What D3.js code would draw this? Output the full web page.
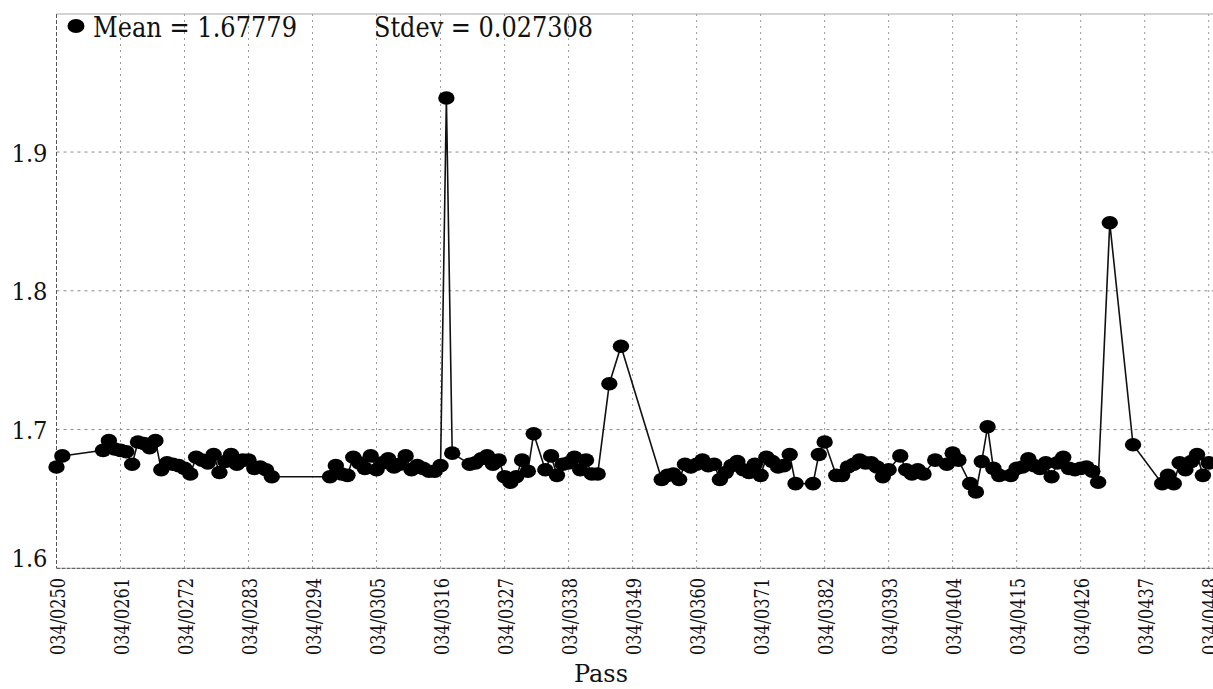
<!DOCTYPE html>
<html>
<head>
<meta charset="utf-8">
<script src="https://cdn.jsdelivr.net/npm/d3@7"></script>
<style>
  html, body { margin: 0; padding: 0; background: #fff; }
</style>
</head>
<body>
<svg id="chart" width="1213" height="689"></svg>
<script>
// ---- data ----
const passes = [
  250,251,258,259,260,261,262,263,264,265,266,267,268,269,270,271,272,273,274,275,
  276,277,278,279,280,281,282,283,284,285,286,287,
  297,298,299,300,301,302,303,304,305,306,307,308,309,310,311,312,313,314,315,316,
  317,318,
  321,322,323,324,325,326,327,328,329,330,331,332,334,335,336,337,338,339,340,341,342,343,
  345,347,
  354,355,356,357,358,359,360,361,362,363,364,365,366,367,368,369,370,371,372,373,374,375,376,377,
  380,381,382,384,385,386,387,388,389,390,391,392,393,395,396,397,398,399,401,403,404,405,
  407,408,409,410,411,412,414,415,416,417,418,419,420,421,422,423,424,425,426,427,428,429,
  431,435,440,441,442,443,444,445,446,447,448
];
const values = [
  1.673,1.681,1.685,1.692,1.686,1.685,1.684,1.675,1.691,1.690,1.687,1.692,1.671,1.676,1.675,1.674,1.672,1.668,1.680,1.678,
  1.676,1.682,1.669,1.677,1.682,1.675,1.678,1.678,1.672,1.673,1.671,1.666,
  1.666,1.674,1.668,1.667,1.680,1.676,1.672,1.681,1.671,1.676,1.679,1.673,1.675,1.681,1.671,1.674,1.672,1.670,1.670,1.674,
  1.939,1.683,
  1.675,1.676,1.679,1.681,1.675,1.678,1.666,1.662,1.666,1.678,1.670,1.697,1.671,1.681,1.667,1.675,1.676,1.680,1.671,1.678,1.668,1.668,
  1.733,1.760,
  1.664,1.667,1.668,1.664,1.675,1.673,1.675,1.678,1.674,1.675,1.664,1.669,1.674,1.677,1.671,1.669,1.675,1.667,1.680,1.677,1.673,1.674,1.682,1.661,
  1.661,1.682,1.691,1.667,1.667,1.673,1.675,1.678,1.676,1.676,1.673,1.666,1.671,1.681,1.671,1.668,1.671,1.668,1.678,1.675,1.683,1.678,
  1.661,1.655,1.677,1.702,1.672,1.667,1.667,1.672,1.673,1.679,1.674,1.672,1.676,1.666,1.676,1.680,1.672,1.671,1.672,1.673,1.670,1.662,
  1.849,1.689,1.661,1.667,1.661,1.676,1.671,1.677,1.682,1.667,1.676
];
const xTickValues = [250,261,272,283,294,305,316,327,338,349,360,371,382,393,404,415,426,437,448];
const xTickLabels = ["034/0250","034/0261","034/0272","034/0283","034/0294","034/0305","034/0316","034/0327","034/0338","034/0349",
                     "034/0360","034/0371","034/0382","034/0393","034/0404","034/0415","034/0426","034/0437","034/0448"];
const yTickValues = [1.6, 1.7, 1.8, 1.9];
const yTickLabels = ["1.6", "1.7", "1.8", "1.9"];
const legendTexts = ["Mean = 1.67779", "Stdev = 0.027308"];
const xTitle = "Pass";

// ---- layout ----
const FONT = "'DejaVu Serif', serif";
const svg = d3.select("#chart");
const plotL = 56.5, plotR = 1213, plotT = 14, plotB = 568.3;

const x = d3.scaleLinear().domain([250, 448]).range([plotL, 1208.7]);
const y = d3.scaleLinear().domain([1.6, 2.0]).range([plotB, 13.3]);

const data = passes.map((p, i) => ({ p, v: values[i] }));

// grid: vertical
svg.append("g").selectAll("line").data(xTickValues).join("line")
  .attr("x1", d => x(d)).attr("x2", d => x(d))
  .attr("y1", plotT).attr("y2", plotB)
  .attr("stroke", "#9a9a9a").attr("stroke-width", 1)
  .attr("stroke-dasharray", "2,4");

// grid: horizontal
svg.append("g").selectAll("line").data(yTickValues.filter(d => d > 1.6)).join("line")
  .attr("x1", plotL).attr("x2", plotR)
  .attr("y1", d => y(d)).attr("y2", d => y(d))
  .attr("stroke", "#8a8a8a").attr("stroke-width", 1)
  .attr("stroke-dasharray", "3,4");

// frame
svg.append("line").attr("x1", plotL).attr("x2", plotR).attr("y1", plotT).attr("y2", plotT)
  .attr("stroke", "#a8a8a8").attr("stroke-width", 1.2);
svg.append("line").attr("x1", plotL).attr("x2", plotL).attr("y1", plotT).attr("y2", plotB)
  .attr("stroke", "#555").attr("stroke-width", 1).attr("stroke-dasharray", "4,2");
svg.append("line").attr("x1", plotL).attr("x2", plotR).attr("y1", plotB).attr("y2", plotB)
  .attr("stroke", "#666").attr("stroke-width", 1.2).attr("stroke-dasharray", "4,1");

// y tick labels
svg.append("g").selectAll("text").data(yTickValues).join("text")
  .attr("x", 47.5)
  .attr("y", (d, i) => i === 0 ? y(d) - 1.5 : y(d) + 9.5)
  .attr("text-anchor", "end")
  .style("font-family", FONT)
  .attr("font-size", 25)
  .attr("textLength", 36).attr("lengthAdjust", "spacingAndGlyphs")
  .attr("fill", "#111")
  .text((d, i) => yTickLabels[i]);

// x tick labels (rotated)
svg.append("g").selectAll("text").data(xTickValues).join("text")
  .attr("transform", d => `translate(${x(d) + 8},578) rotate(-90)`)
  .attr("text-anchor", "end")
  .style("font-family", FONT)
  .attr("font-size", 19.5)
  .attr("textLength", 77).attr("lengthAdjust", "spacingAndGlyphs")
  .attr("fill", "#111")
  .text((d, i) => xTickLabels[i]);

// x title
svg.append("text")
  .attr("x", 601).attr("y", 682)
  .attr("text-anchor", "middle")
  .style("font-family", FONT)
  .attr("font-size", 25)
  .attr("textLength", 54).attr("lengthAdjust", "spacingAndGlyphs")
  .attr("fill", "#111")
  .text(xTitle);

// series line
const line = d3.line().x(d => x(d.p)).y(d => y(d.v));
svg.append("path").datum(data)
  .attr("d", line)
  .attr("fill", "none")
  .attr("stroke", "#111")
  .attr("stroke-width", 1.6);

// markers
svg.append("g").selectAll("ellipse").data(data).join("ellipse")
  .attr("cx", d => x(d.p)).attr("cy", d => y(d.v))
  .attr("rx", 8.2).attr("ry", 6.8)
  .attr("fill", "#000");

// legend
svg.append("ellipse").attr("cx", 76).attr("cy", 26).attr("rx", 8.5).attr("ry", 7).attr("fill", "#000");
svg.append("text").attr("x", 93).attr("y", 37).style("font-family", FONT).attr("font-size", 27)
  .attr("textLength", 204).attr("lengthAdjust", "spacingAndGlyphs")
  .attr("fill", "#111").text(legendTexts[0]);
svg.append("text").attr("x", 374).attr("y", 37).style("font-family", FONT).attr("font-size", 27)
  .attr("textLength", 219).attr("lengthAdjust", "spacingAndGlyphs")
  .attr("fill", "#111").text(legendTexts[1]);
</script>
</body>
</html>
